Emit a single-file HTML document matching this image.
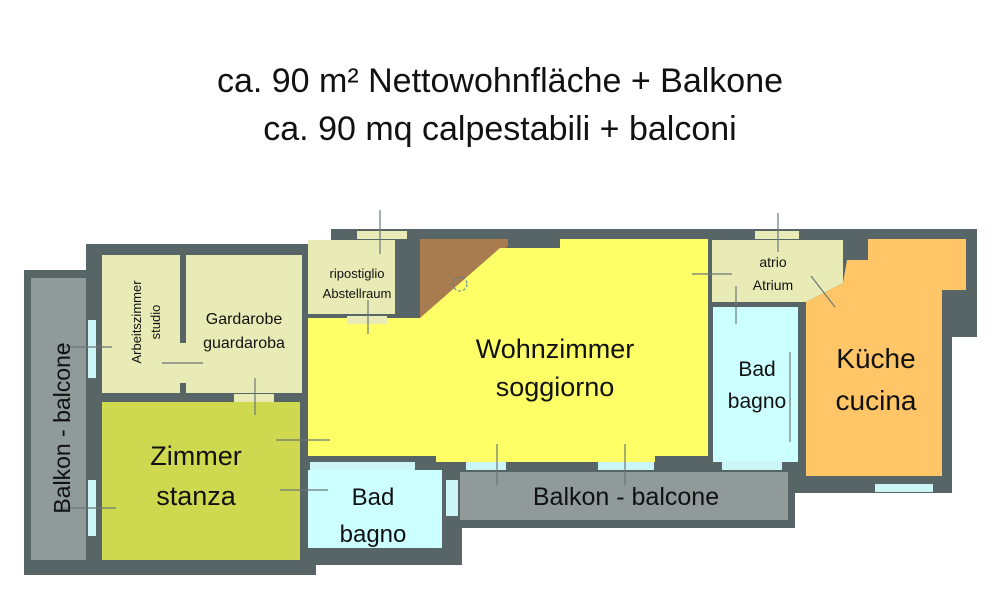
<!DOCTYPE html>
<html><head><meta charset="utf-8"><style>
body{margin:0;background:#fff;width:1000px;height:602px;overflow:hidden}
svg{display:block}
text{font-family:"Liberation Sans",sans-serif;fill:#111}
</style></head><body>
<svg width="1000" height="602" viewBox="0 0 1000 602">
<text x="500" y="92" font-size="34" text-anchor="middle">ca. 90 m² Nettowohnfläche + Balkone</text>
<text x="500" y="140" font-size="34" text-anchor="middle">ca. 90 mq calpestabili + balconi</text>
<g fill="#576566">
<rect x="24" y="270" width="70" height="305"/>
<rect x="86" y="244" width="230" height="331"/>
<rect x="331" y="229" width="646" height="108"/>
<rect x="300" y="244" width="130" height="225"/>
<rect x="300" y="300" width="652" height="193"/>
<rect x="300" y="300" width="495" height="228"/>
<rect x="300" y="460" width="162" height="105"/>
</g>
<rect x="31" y="278" width="55" height="282" fill="#8f9a99"/>
<g fill="#e8ebb5">
<rect x="102" y="255" width="78" height="138"/>
<rect x="186" y="255" width="116" height="138"/>
<rect x="308" y="240" width="87" height="74"/>
<polygon points="712,240 843,240 843,283 806,302 712,302"/>
</g>
<polygon points="420,239 508,239 508,246 420,320" fill="#a87c4f"/>
<polygon points="308,318 420,318 500,248 560,248 560,239 708,239 708,456 655,456 655,462 436,462 436,456 308,456" fill="#fefe66"/>
<rect x="102" y="402" width="198" height="158" fill="#cfd94f"/>
<g fill="#ccffff">
<rect x="308" y="470" width="134" height="78"/>
<rect x="713" y="307" width="85" height="155"/>
</g>
<polygon points="868,239 966,239 966,290 942,290 942,476 806,476 806,302 843,283 847,260 868,260" fill="#ffc566"/>
<rect x="460" y="472" width="328" height="48" fill="#8f9a99"/>
<g fill="#ccf5f5">
<rect x="88" y="320" width="8" height="58"/><rect x="88" y="480" width="8" height="56"/>
<rect x="466" y="462" width="40" height="8"/><rect x="598" y="462" width="56" height="8"/>
<rect x="722" y="462" width="60" height="8"/><rect x="875" y="484" width="58" height="8"/>
<rect x="446" y="480" width="12" height="36"/><rect x="310" y="462" width="105" height="8"/>
</g>
<g fill="#e8ebb5"><rect x="357" y="231" width="50" height="8"/><rect x="755" y="231" width="44" height="8"/>
<rect x="234" y="394" width="40" height="8"/><rect x="347" y="316" width="40" height="8"/>
<rect x="180" y="343" width="6" height="40"/></g>
<g stroke="#6a7778" stroke-width="1.2" fill="none">
<line x1="380" y1="210" x2="380" y2="254"/><line x1="368" y1="300" x2="368" y2="334"/>
<line x1="778" y1="213" x2="778" y2="252"/><line x1="736" y1="286" x2="736" y2="324"/>
<line x1="692" y1="274" x2="732" y2="274"/><line x1="811" y1="276" x2="835" y2="307"/>
<line x1="162" y1="363" x2="203" y2="363"/><line x1="255" y1="378" x2="255" y2="415"/>
<line x1="276" y1="440" x2="330" y2="440"/><line x1="280" y1="490" x2="328" y2="490"/>
<line x1="60" y1="347" x2="112" y2="347"/><line x1="60" y1="508" x2="116" y2="508"/>
<line x1="497" y1="444" x2="497" y2="485"/><line x1="625" y1="444" x2="625" y2="485"/>
<line x1="790" y1="352" x2="790" y2="442"/>
</g>
<circle cx="460" cy="284" r="7" fill="none" stroke="#5577aa" stroke-dasharray="3,2"/>
<g text-anchor="middle">
<text x="555" y="358" font-size="27">Wohnzimmer</text>
<text x="555" y="396" font-size="27">soggiorno</text>
<text x="876" y="368" font-size="28">Küche</text>
<text x="876" y="410" font-size="28">cucina</text>
<text x="196" y="465" font-size="27">Zimmer</text>
<text x="196" y="505" font-size="27">stanza</text>
<text x="373" y="505" font-size="24">Bad</text>
<text x="373" y="542" font-size="24">bagno</text>
<text x="757" y="376" font-size="21">Bad</text>
<text x="757" y="408" font-size="21">bagno</text>
<text x="626" y="505" font-size="25">Balkon - balcone</text>
<text x="244" y="324" font-size="16">Gardarobe</text>
<text x="244" y="348" font-size="16">guardaroba</text>
<text x="357" y="278" font-size="13">ripostiglio</text>
<text x="357" y="298" font-size="13">Abstellraum</text>
<text x="773" y="267" font-size="14">atrio</text>
<text x="773" y="290" font-size="14">Atrium</text>
<text transform="translate(70,428) rotate(-90)" font-size="23">Balkon - balcone</text>
<text transform="translate(141,322) rotate(-90)" font-size="13">Arbeitszimmer</text>
<text transform="translate(160,322) rotate(-90)" font-size="13">studio</text>
</g>
</svg>
</body></html>
